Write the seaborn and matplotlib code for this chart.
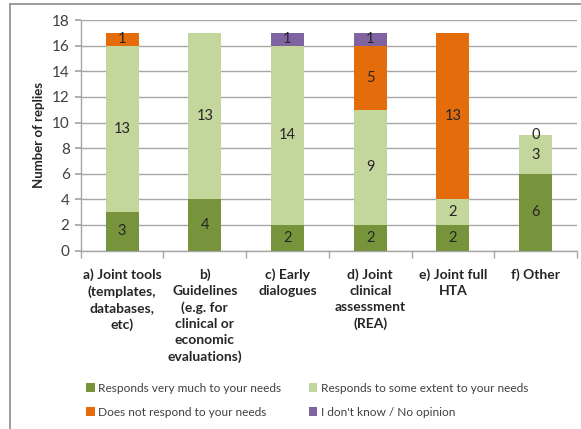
import numpy as np
import pandas as pd
import seaborn as sns
import matplotlib.pyplot as plt
from matplotlib.patches import Patch
from matplotlib.lines import Line2D

# Data (nan = segment not shown / no label)
categories = ["a) Joint tools\n(templates,\ndatabases,\netc)",
              "b)\nGuidelines\n(e.g. for\nclinical or\neconomic\nevaluations)",
              "c) Early\ndialogues",
              "d) Joint\nclinical\nassessment\n(REA)",
              "e) Joint full\nHTA",
              "f) Other"]
very_much = [3, 4, 2, 2, 2, 6]
some_extent = [13, 13, 14, 9, 2, 3]
not_respond = [1, np.nan, np.nan, 5, 13, 0]
dont_know = [np.nan, np.nan, 1, 1, np.nan, np.nan]

series_names = ["Responds very much to your needs",
                "Responds to some extent to your needs",
                "Does not respond to your needs",
                "I don't know / No opinion"]
colors = ["#77933C", "#C3D69B", "#E46C0A", "#8064A2"]

sns.set_theme(style="white")
plt.rcParams['font.family'] = ['Lato', 'DejaVu Sans']

series = [very_much, some_extent, not_respond, dont_know]
vals = np.nan_to_num(np.array(series, dtype=float))
cum = np.cumsum(vals, axis=0)

fig = plt.figure(figsize=(5.81, 4.29), dpi=100)
ax = fig.add_axes([0.139, 0.416, 0.854, 0.537])

# stack by drawing cumulative totals from the top layer down
xs = list(range(len(categories)))
for i in range(len(series) - 1, -1, -1):
    df = pd.DataFrame({"x": xs, "y": cum[i]})
    sns.barplot(data=df, x="x", y="y", color=colors[i], width=0.4,
                saturation=1, ax=ax, zorder=3, linewidth=0, edgecolor="none")

# segment labels
for i, s in enumerate(series):
    for j, v in enumerate(s):
        if np.isnan(v):
            continue
        mid = cum[i][j] - vals[i][j] / 2
        ax.text(j, mid, f"{int(v)}", ha="center", va="center",
                fontsize=10.5, color="#262626", zorder=5)

ax.set_ylim(0, 18)
ax.set_xlim(-0.5, 5.5)
ax.set_yticks(range(0, 19, 2))
ax.yaxis.grid(True, color="#A6A6A6", linewidth=1)
ax.set_axisbelow(True)
ax.set_xticks(xs)
ax.set_xticklabels(categories, fontweight="bold", fontsize=10,
                   linespacing=1.4, va="top")
ax.set_xticks(np.arange(-0.5, 6, 1), minor=True)
ax.tick_params(axis="x", which="major", length=0, pad=13)
ax.tick_params(axis="x", which="minor", length=5, color="#A6A6A6", bottom=True)
ax.tick_params(axis="y", length=4, color="#A6A6A6", left=True,
               labelsize=11, labelcolor="#404040", pad=4)
ax.set_xlabel("")
ax.set_ylabel("Number of replies", fontweight="bold", fontsize=9.5, labelpad=5)
for side in ["top", "right"]:
    ax.spines[side].set_visible(False)
for side in ["left", "bottom"]:
    ax.spines[side].set_color("#A6A6A6")
    ax.spines[side].set_linewidth(1)

# legend laid out row by row like the original
order = [0, 2, 1, 3]
handles = [Patch(facecolor=colors[k], edgecolor="none") for k in order]
labels = [series_names[k] for k in order]
fig.legend(handles, labels, loc="upper left",
           bbox_to_anchor=(0.13, 0.133), ncol=2, frameon=False,
           fontsize=8.6, handlelength=0.7, handleheight=0.7,
           handletextpad=0.3, columnspacing=2.3, labelspacing=1.1,
           labelcolor="#404040")

# outer chart border (left and top visible)
fig.add_artist(Line2D([0.017, 0.017], [0, 0.991], color="#8C8C8C", linewidth=1.2))
fig.add_artist(Line2D([0.017, 1.0], [0.991, 0.991], color="#8C8C8C", linewidth=1.2))

plt.savefig("out.png", dpi=100)
